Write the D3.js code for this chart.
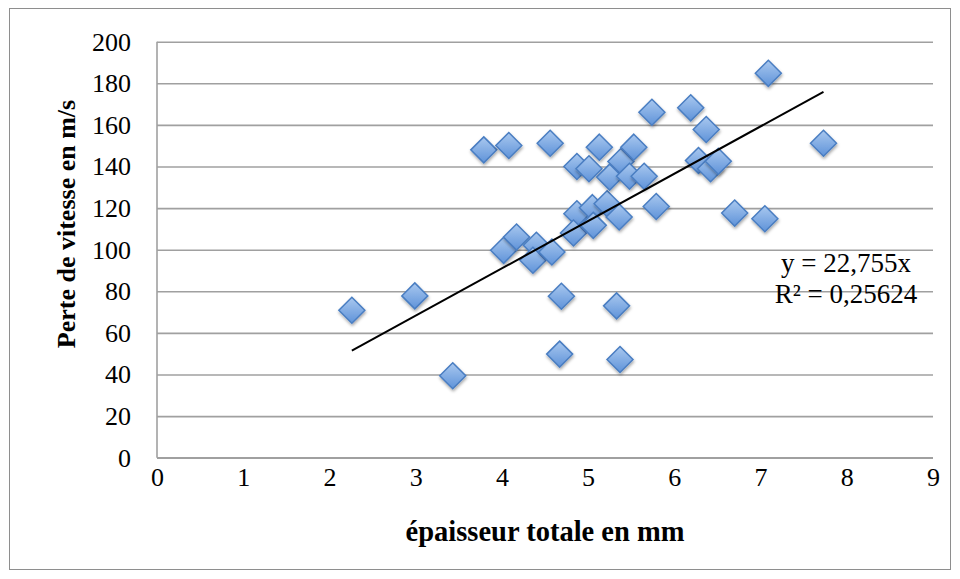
<!DOCTYPE html>
<html>
<head>
<meta charset="utf-8">
<script src="https://cdn.jsdelivr.net/npm/d3@7"></script>
<style>
  body { margin: 0; background: #fff; }
  svg text { font-family: "Liberation Serif", "DejaVu Serif", serif; fill: #000; }
</style>
</head>
<body>
<svg id="chart" width="960" height="579"></svg>
<script>
// épaisseur totale (mm) / perte de vitesse (m/s)
let thickness = [2.26, 2.99, 3.43, 3.79, 4.08, 4.56, 4.02, 4.17, 4.40, 4.36,
                 4.58, 4.69, 4.67, 4.87, 5.01, 5.13, 4.87, 5.05, 5.22, 5.36,
                 4.83, 5.06, 5.38, 5.25, 5.48, 5.53, 5.65, 5.74, 5.79, 5.33,
                 5.37, 6.19, 6.37, 6.28, 6.42, 6.51, 6.70, 7.05, 7.09, 7.73];
let speedLoss = [70.9, 77.8, 39.4, 148.0, 150.1, 151.2, 99.7, 106.1, 102.1, 94.9,
                 98.9, 77.6, 49.8, 140.0, 138.9, 149.3, 117.3, 120.2, 122.1, 115.7,
                 108.0, 111.7, 142.4, 134.9, 135.3, 149.3, 135.3, 166.1, 120.8, 73.0,
                 47.2, 168.2, 157.8, 142.9, 138.9, 142.5, 117.6, 114.9, 184.8, 151.2];
let xTicks = [0, 1, 2, 3, 4, 5, 6, 7, 8, 9];
let yTicks = [0, 20, 40, 60, 80, 100, 120, 140, 160, 180, 200];
let trendSlope = 22.755;
let trendLabel = ["y = 22,755x", "R² = 0,25624"];
let xTitle = "épaisseur totale en mm";
let yTitle = "Perte de vitesse en m/s";

let svg = d3.select("#chart");
let plotLeft = 157, plotRight = 933, plotTop = 41.7, plotBottom = 457.7;

let xScale = d3.scaleLinear().domain([0, 9]).range([plotLeft, plotRight]);
let yScale = d3.scaleLinear().domain([0, 200]).range([plotBottom, plotTop]);

let defs = svg.append("defs");
let grad = defs.append("linearGradient")
    .attr("id", "diamondFill")
    .attr("x1", 0).attr("y1", 0).attr("x2", 0).attr("y2", 1);
grad.append("stop").attr("offset", "0%").attr("stop-color", "#a9c8ef");
grad.append("stop").attr("offset", "100%").attr("stop-color", "#5f93d9");
let shadow = defs.append("filter").attr("id", "shadow")
    .attr("x", "-50%").attr("y", "-50%").attr("width", "200%").attr("height", "200%");
shadow.append("feDropShadow")
    .attr("dx", 0.5).attr("dy", 2).attr("stdDeviation", 1.6)
    .attr("flood-color", "#000").attr("flood-opacity", 0.35);

// outer chart border
svg.append("rect")
    .attr("x", 9.5).attr("y", 8.5)
    .attr("width", 941).attr("height", 561)
    .style("fill", "none")
    .style("stroke", "#8e8e8e")
    .style("stroke-width", 1);

// grid + y labels
let yAxis = svg.append("g")
    .attr("transform", `translate(${plotLeft},0)`)
    .call(d3.axisLeft(yScale).tickValues(yTicks).tickSize(-(plotRight - plotLeft)).tickPadding(26).tickFormat(d3.format("d")));
yAxis.select(".domain").remove();
yAxis.selectAll(".tick line")
    .style("stroke", "#a0a0a0")
    .style("stroke-width", 1.6);
yAxis.selectAll(".tick text")
    .style("font-size", "26px");

// x labels
let xAxis = svg.append("g")
    .attr("transform", `translate(0,${plotBottom})`)
    .call(d3.axisBottom(xScale).tickValues(xTicks).tickSize(0).tickPadding(10).tickFormat(d3.format("d")));
xAxis.select(".domain").remove();
xAxis.selectAll(".tick text")
    .style("font-size", "26px");

// axis lines
svg.append("line")
    .attr("x1", plotLeft).attr("x2", plotLeft)
    .attr("y1", plotTop).attr("y2", plotBottom)
    .style("stroke", "#a0a0a0").style("stroke-width", 1.6);
svg.append("line")
    .attr("x1", plotLeft).attr("x2", plotRight)
    .attr("y1", plotBottom).attr("y2", plotBottom)
    .style("stroke", "#a0a0a0").style("stroke-width", 1.6);

// points
let data = thickness.map((t, i) => ({x: t, y: speedLoss[i]}));
let r = 13;
svg.append("g").selectAll(".point")
    .data(data)
    .enter().append("path")
    .attr("class", "point")
    .attr("d", `M0,${-r}L${r},0L0,${r}L${-r},0Z`)
    .attr("transform", d => `translate(${xScale(d.x)},${yScale(d.y)})`)
    .style("fill", "url(#diamondFill)")
    .style("stroke", "#4a7ec2")
    .style("stroke-width", 1.5)
    .style("filter", "url(#shadow)");

// trend line through origin
let xMin = d3.min(thickness), xMax = d3.max(thickness);
svg.append("line")
    .attr("x1", xScale(xMin)).attr("y1", yScale(trendSlope * xMin))
    .attr("x2", xScale(xMax)).attr("y2", yScale(trendSlope * xMax))
    .style("stroke", "#000")
    .style("stroke-width", 2);

svg.append("g").selectAll("text")
    .data(trendLabel)
    .enter().append("text")
    .attr("x", 846)
    .attr("y", (d, i) => 272 + i * 31)
    .attr("text-anchor", "middle")
    .style("font-size", "27px")
    .text(d => d);

// titles
svg.append("text")
    .attr("x", (plotLeft + plotRight) / 2)
    .attr("y", 541)
    .attr("text-anchor", "middle")
    .style("font-size", "28.5px")
    .style("font-weight", "bold")
    .text(xTitle);
svg.append("text")
    .attr("transform", "translate(75,224) rotate(-90)")
    .attr("text-anchor", "middle")
    .style("font-size", "26px")
    .style("font-weight", "bold")
    .text(yTitle);
</script>
</body>
</html>
